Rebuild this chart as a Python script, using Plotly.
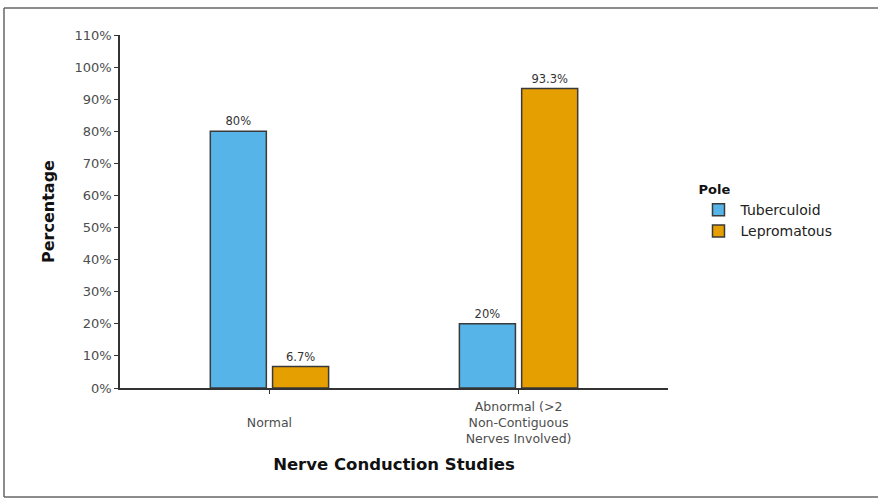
import plotly.graph_objects as go

categories = ["Normal", "Abnormal (>2 Non-Contiguous Nerves Involved)"]
category_tick_labels = [" <br>Normal", "Abnormal (>2<br>Non-Contiguous<br>Nerves Involved)"]
tuberculoid = [80, 20]
lepromatous = [6.7, 93.3]
tuberculoid_labels = ["80%", "20%"]
lepromatous_labels = ["6.7%", "93.3%"]
y_ticks = list(range(0, 111, 10))
y_tick_labels = [f"{v}%" for v in y_ticks]

FONT = "DejaVu Sans, Liberation Sans, Arial, sans-serif"

fig = go.Figure()
fig.add_trace(go.Bar(
    x=categories, y=tuberculoid, name="Tuberculoid",
    text=tuberculoid_labels, textposition="outside", cliponaxis=False,
    textfont=dict(size=11.5, color="#333333", family=FONT),
    marker=dict(color="#56B4E9", line=dict(color="#3a3a3a", width=1.5)),
))
fig.add_trace(go.Bar(
    x=categories, y=lepromatous, name="Lepromatous",
    text=lepromatous_labels, textposition="outside", cliponaxis=False,
    textfont=dict(size=11.5, color="#333333", family=FONT),
    marker=dict(color="#E69F00", line=dict(color="#3a3a3a", width=1.5)),
))

# outer frame (left, top, bottom edges); plot area is x 120..668, y 35..388 px
frame = dict(color="#666666", width=1.5)
fx0, fx1, fy0, fy1 = -0.2117, 1.5, -0.3088, 1.0765
fig.add_shape(type="line", xref="paper", yref="paper", x0=fx0, x1=fx0, y0=fy0, y1=fy1, line=frame)
fig.add_shape(type="line", xref="paper", yref="paper", x0=fx0, x1=fx1, y0=fy1, y1=fy1, line=frame)
fig.add_shape(type="line", xref="paper", yref="paper", x0=fx0, x1=fx1, y0=fy0, y1=fy0, line=frame)

fig.update_layout(
    width=878, height=499,
    margin=dict(l=120, r=210, t=35, b=111),
    paper_bgcolor="white", plot_bgcolor="white",
    font=dict(family=FONT, color="#4d4d4d", size=13),
    barmode="group", bargap=0.5, bargroupgap=0.1,
    legend=dict(
        title=dict(text="<b>Pole</b>", font=dict(size=13, color="#111111")),
        x=1.052, y=0.597, xanchor="left", yanchor="top",
        font=dict(size=14, color="#222222"),
        traceorder="normal", itemwidth=34,
    ),
    xaxis=dict(
        type="category", range=[-0.6, 1.6],
        tickvals=categories, ticktext=category_tick_labels,
        showline=True, linecolor="#333333", linewidth=1.5,
        ticks="outside", ticklen=4, tickcolor="#333333", tickwidth=1.2,
        tickfont=dict(size=12.5, color="#4d4d4d"), ticklabelstandoff=2,
        showgrid=False, zeroline=False,
        title=dict(text="<b>Nerve Conduction Studies</b>",
                   font=dict(size=16.5, color="#111111"), standoff=13),
    ),
    yaxis=dict(
        range=[0, 110], tickvals=y_ticks, ticktext=y_tick_labels,
        showline=True, linecolor="#333333", linewidth=1.5,
        ticks="outside", ticklen=4, tickcolor="#333333", tickwidth=1.2,
        tickfont=dict(size=13, color="#4d4d4d"),
        showgrid=False, zeroline=False,
        title=dict(text="<b>Percentage</b>",
                   font=dict(size=16, color="#111111"), standoff=16),
    ),
)

fig.write_html("out.html", config={"displayModeBar": False},
               post_script="document.body.style.margin='0px';document.body.style.overflow='hidden';")
